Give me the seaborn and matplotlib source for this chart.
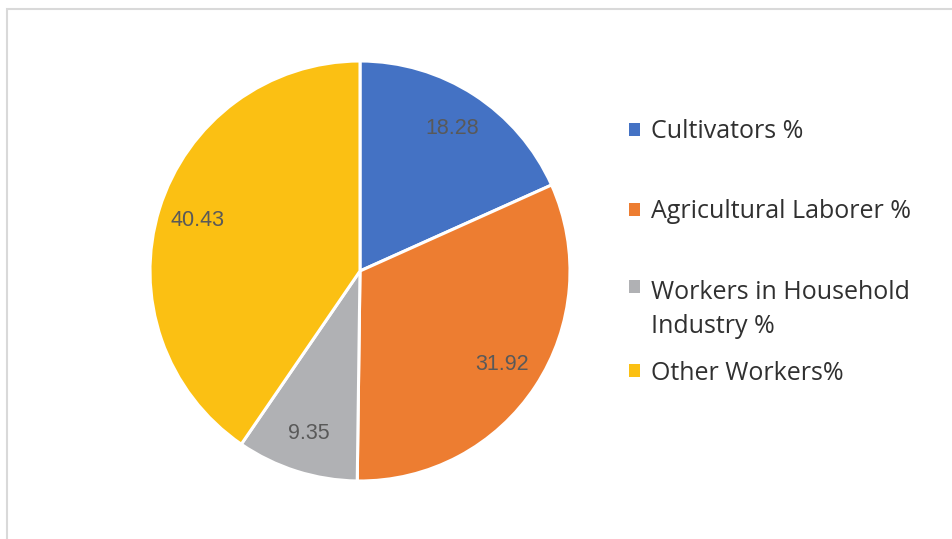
import matplotlib
matplotlib.use("Agg")
import matplotlib.pyplot as plt
from matplotlib.patches import Patch, Rectangle
import seaborn as sns

categories = ["Cultivators %", "Agricultural Laborer %",
              "Workers in Household\nIndustry %", "Other Workers%"]
values = [18.28, 31.92, 9.35, 40.43]
colors = ["#4472C4", "#ED7D31", "#B0B1B4", "#FBC013"]

sns.set_theme(style="white")
plt.rcParams["font.family"] = ["Open Sans", "DejaVu Sans"]

W, H = 953, 539
fig = plt.figure(figsize=(W / 100, H / 100), dpi=100)

# chart border (only top and left edges show inside the picture)
fig.patches.append(Rectangle((7 / W, -0.1), 1.2, 1.1 - 9 / H, transform=fig.transFigure,
                             fill=False, edgecolor="#D9D9D9", linewidth=1.5))

ax = fig.add_axes([150 / W, 58 / H, 420 / W, 420 / H])
labels_iter = iter(f"{v:.2f}" for v in values)
wedges, _, autotexts = ax.pie(
    values,
    colors=colors,
    startangle=90,
    counterclock=False,
    autopct=lambda p: next(labels_iter),
    pctdistance=0.81,
    wedgeprops=dict(edgecolor="white", linewidth=2.2),
    textprops=dict(color="#595959", fontsize=15.5, family=["Liberation Sans"]),
)
for w in wedges:
    w.set_clip_on(False)
ax.set_xlim(-1, 1)
ax.set_ylim(-1, 1)
ax.set_aspect("equal")
ax.axis("off")

# legend entries, laid out like the original (one per row)
rows = [("center left", 132), ("center left", 212),
        ("upper left", 280), ("center left", 373)]
for i, (lab, col) in enumerate(zip(categories, colors)):
    loc, y = rows[i]
    leg = fig.legend(
        handles=[Patch(facecolor=col, edgecolor="none")],
        labels=[lab],
        loc=loc,
        bbox_to_anchor=(629 / W, 1 - y / H),
        frameon=False,
        fontsize=18,
        handlelength=0.45,
        handleheight=0.45,
        handletextpad=0.45,
        borderpad=0,
        borderaxespad=0,
        labelcolor="#303030",
    )
    if "\n" in lab:
        leg.texts[0].set_linespacing(1.45)
        leg._legend_handle_box.get_children()[0].get_children()[0].align = "top"

fig.savefig("out.png", dpi=100, facecolor="white")
